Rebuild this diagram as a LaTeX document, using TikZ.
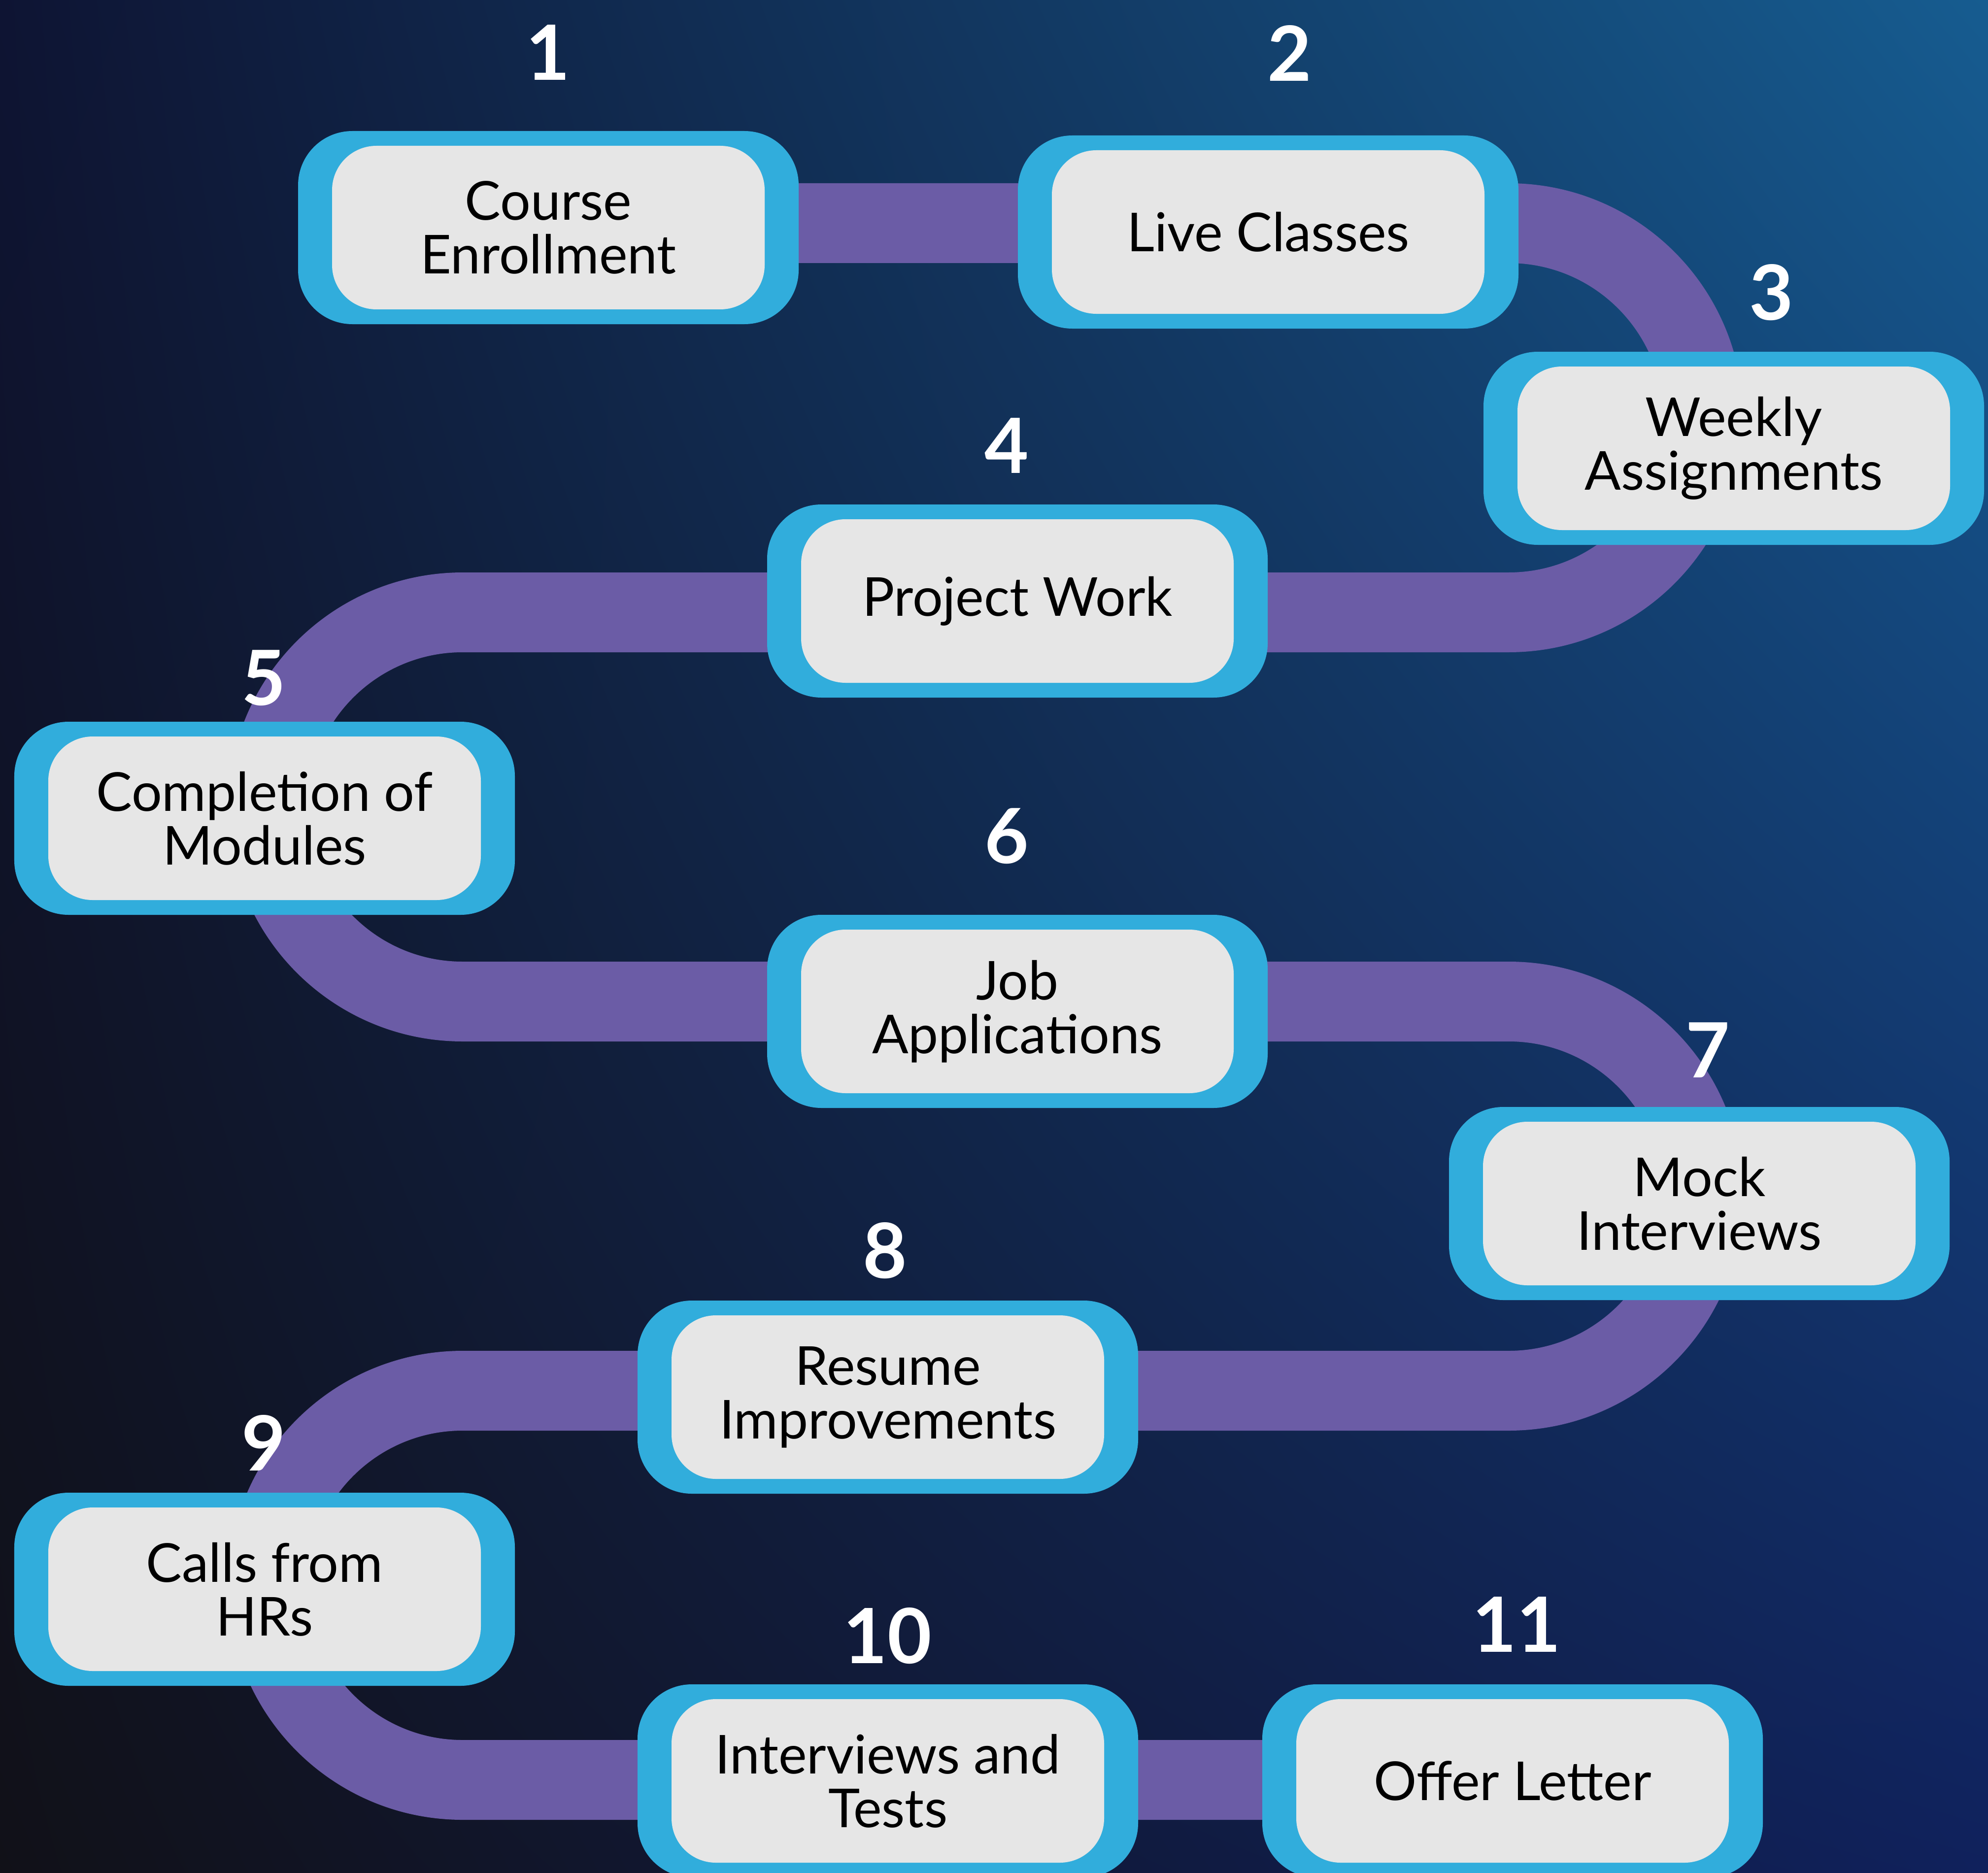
\documentclass[tikz,border=0pt]{standalone}
\usepackage{fontspec}
\setmainfont{Lato}
\usepackage{tikz}
\usetikzlibrary{positioning,calc,shadings,backgrounds}
\usepackage{xcolor}

\definecolor{bandpurple}{HTML}{6B5CA6}
\definecolor{boxblue}{HTML}{31ADDC}
\definecolor{boxgray}{HTML}{E6E6E6}
\definecolor{bgul}{HTML}{0E1433}
\definecolor{bgur}{HTML}{165C90}
\definecolor{bgll}{HTML}{111118}
\definecolor{bglr}{HTML}{10215C}

\tikzset{
  stepbox/.style={fill=boxblue, rounded corners=1.1cm, minimum width=10.16cm,
    minimum height=3.92cm, inner sep=0pt, align=center,
    font=\fontsize{31}{31}\selectfont,
    path picture={\fill[boxgray,rounded corners=0.9cm]
      ([shift={(0.69cm,0.3cm)}]path picture bounding box.south west) rectangle
      ([shift={(-0.69cm,-0.3cm)}]path picture bounding box.north east);}},
  stepnum/.style={text=white, anchor=base, inner sep=0pt,
    font=\fontsize{44}{44}\selectfont\bfseries},
  band/.style={draw=bandpurple, line width=1.62cm},
}

\begin{document}
\begin{tikzpicture}
\useasboundingbox (0,0) rectangle (40.35,-38.02);

\node[stepbox] (enrol) at (11.13,-4.62) {Course\\Enrollment};
\node[stepbox] (live) at (25.74,-4.71) {Live Classes};
\node[stepbox] (weekly) at (35.19,-9.10) {Weekly\\Assignments};
\node[stepbox] (project) at (20.65,-12.20) {Project Work};
\node[stepbox] (modules) at (5.37,-16.61) {Completion of\\Modules};
\node[stepbox] (jobs) at (20.65,-20.53) {Job\\Applications};
\node[stepbox] (mock) at (34.49,-24.43) {Mock\\Interviews};
\node[stepbox] (resume) at (18.02,-28.36) {Resume\\Improvements};
\node[stepbox] (calls) at (5.37,-32.26) {Calls from\\HRs};
\node[stepbox] (tests) at (18.02,-36.15) {Interviews and\\Tests};
\node[stepbox] (offer) at (30.70,-36.15) {Offer Letter};

% turning points of the band
\coordinate (r1) at (30.62,-4.53);
\coordinate (l2) at (9.39,-12.43);
\coordinate (r3) at (30.62,-20.33);
\coordinate (l4) at (9.39,-28.23);
\coordinate (l5) at (9.39,-36.13);

\begin{pgfonlayer}{background}
\shade[upper left=bgul, upper right=bgur, lower left=bgll, lower right=bglr]
  (0,0) rectangle (40.35,-38.02);
\draw[band] (enrol.center |- r1) -- (r1)
  arc[start angle=90, end angle=-90, radius=3.95] -- (l2)
  arc[start angle=90, end angle=270, radius=3.95] -- (r3)
  arc[start angle=90, end angle=-90, radius=3.95] -- (l4)
  arc[start angle=90, end angle=270, radius=3.95] -- (offer.center |- l5);
\end{pgfonlayer}

\node[stepnum] (n1) at (11.12,-1.63) {1};
\node[stepnum] (n2) at (26.17,-1.65) {2};
\node[stepnum] (n3) at (35.95,-6.49) {3};
\node[stepnum] (n4) at (20.43,-9.60) {4};
\node[stepnum] (n5) at (5.35,-14.31) {5};
\node[stepnum] (n6) at (20.43,-17.52) {6};
\node[stepnum] (n7) at (34.66,-21.87) {7};
\node[stepnum] (n8) at (17.96,-25.94) {8};
\node[stepnum] (n9) at (5.35,-29.85) {9};
\node[stepnum] (n10) at (18.01,-33.76) {10};
\node[stepnum] (n11) at (30.78,-33.53) {11};
\end{tikzpicture}
\end{document}
